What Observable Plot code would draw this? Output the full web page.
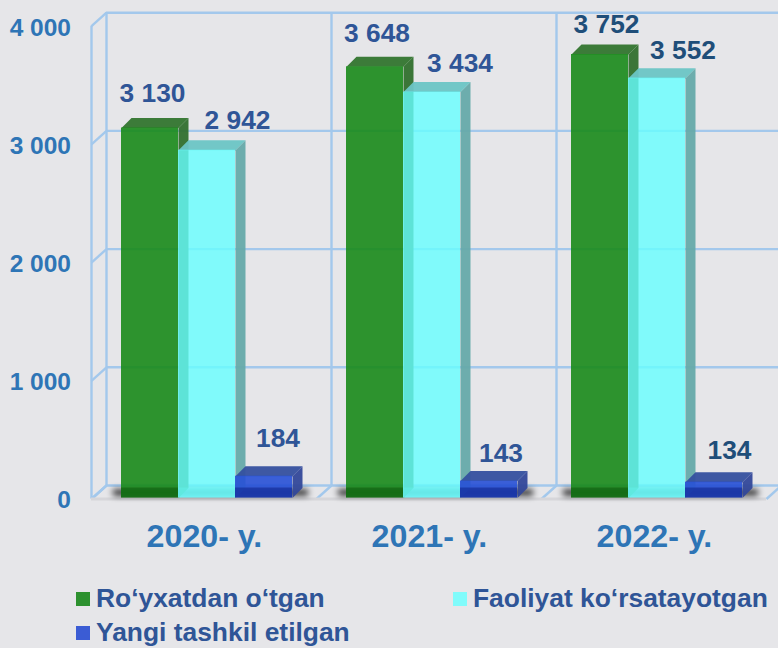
<!DOCTYPE html>
<html><head><meta charset="utf-8">
<script src="https://cdn.jsdelivr.net/npm/d3@7"></script>
<script src="https://cdn.jsdelivr.net/npm/@observablehq/plot@0.6"></script>
<style>
html,body{margin:0;padding:0;background:#e6e6e9;overflow:hidden;width:778px;height:648px;font-family:"Liberation Sans",Arial,sans-serif}
svg{display:block}
#legend{display:grid;grid-template-columns:377px auto;grid-auto-rows:34px;padding-left:76px;padding-top:2.5px;height:66.5px;overflow:hidden;font-weight:bold;font-size:26.4px;line-height:0.9;color:#2f5597}
#legend div{display:flex;align-items:center;white-space:nowrap}
#legend i{display:inline-block;width:14px;height:14px;margin-right:6px;flex:none}
</style></head><body>
<div id="chart"></div>
<div id="legend"></div>
<script>
const years = ["2020- y.", "2021- y.", "2022- y."];
const seriesNames = ["Ro‘yxatdan o‘tgan", "Faoliyat ko‘rsatayotgan", "Yangi tashkil etilgan"];
const registered = [3130, 3648, 3752];
const active = [2942, 3434, 3552];
const created = [184, 143, 134];
const yTicks = [0, 1000, 2000, 3000, 4000];
const legendColors = ["#2d912f", "#80fbfb", "#3b5cd4"];

// appearance and layout
const W = 778, H = 579, mL = 71, mB = 74;
const pxPerCat = 225, pxPerVal = 0.1182, zeroY = 497.5, catOrigin = 91;
const px = p => p / pxPerCat, pv = p => p / pxPerVal;
const styles = [
  {front:"#188a1a", top:"#33752f", side:"#31702e", a:0.9, band:"#003c00", bandA:0.35},
  {front:"#66ffff", top:"#6cc5c5", side:"#66aaaa", a:0.8, band:"#66ffff", bandA:0.25},
  {front:"#2750d6", top:"#35509f", side:"#33489a", a:0.9, band:"#001070", bandA:0.4}
];
const barStart = px(30), barW = px(57), depthX = px(10), depthY = pv(10);
const grid = "#a3c8ec", labelBlue = "#2e75b6";
const labelColors = ["#2f5597", "#2f5597", "#1f4e79"];
// hand placement of value labels relative to bar top centre, px [dx, up]
const nudges = [
  [[2.5,34.5],[30.5,30],[14,38]],
  [[2,33],[28,29],[12,28]],
  [[6.5,29.5],[26,27.5],[15.5,32]]
];
const series = [registered, active, created];
const fmt = v => String(v).replace(/\B(?=(\d{3})+$)/g, " ");

const faces = (vals, s) => vals.flatMap((v, g) => {
  const x0 = g + barStart + s * barW, x1 = x0 + barW;
  return [
    ...[[x1,v],[x1+depthX,v+depthY],[x1+depthX,depthY],[x1,0]].map(([x,y]) => ({id:"side"+g, kind:"side", x, y})),
    ...[[x0,v],[x1,v],[x1+depthX,v+depthY],[x0+depthX,v+depthY]].map(([x,y]) => ({id:"top"+g, kind:"top", x, y}))
  ];
});
const fronts = (vals, s) => vals.map((v, g) => ({x1:g+barStart+s*barW, x2:g+barStart+(s+1)*barW, v}));

const wallX = px(15), wallFront = pv(-1), wallBack = pv(12.5);
const blur = r => (index, scales, values, dims, ctx, next) => {
  const g = next(index, scales, values, dims, ctx);
  g.style.filter = `blur(${r}px)`;
  return g;
};
const gridW = 2.4;
const marks = [
  // grid: back wall
  Plot.ruleY(yTicks, {y:d=>d+wallBack, x1:wallX, x2:px(W-catOrigin), stroke:grid, strokeWidth:gridW}),
  Plot.ruleX([0,1,2,3].map(d=>d+wallX), {x:d=>d, y1:wallBack, y2:4000+wallBack, stroke:grid, strokeWidth:gridW}),
  // left wall
  Plot.ruleX([0], {x:d=>d, y1:wallFront, y2:4000+wallFront, stroke:grid, strokeWidth:gridW}),
  Plot.link(yTicks, {x1:0, x2:wallX, y1:d=>d+wallFront, y2:d=>d+wallBack, stroke:grid, strokeWidth:gridW}),
  // floor
  Plot.link([0,1,2,3], {x1:d=>d, x2:d=>d+wallX, y1:wallFront, y2:wallBack, stroke:grid, strokeWidth:gridW}),
  Plot.ruleY([wallFront], {x1:0, x2:3, stroke:"#d6d6da", strokeWidth:3}),
  // floor shadow
  Plot.rect(years, {x1:(d,i)=>i+barStart-px(8), x2:(d,i)=>i+barStart+3*barW+px(16), y1:pv(2), y2:pv(8), fill:"#000", fillOpacity:0.85, render:blur(3)})
];
series.forEach((vals, s) => {
  const st = styles[s], f = faces(vals, s);
  marks.push(Plot.line(f.filter(d=>d.kind==="side"), {x:"x", y:"y", z:"id", fill:st.side, stroke:"none", fillOpacity:0.95}));
  marks.push(Plot.line(f.filter(d=>d.kind==="top"), {x:"x", y:"y", z:"id", fill:st.top, stroke:"none", fillOpacity:0.95}));
  marks.push(Plot.rectY(fronts(vals, s), {x1:"x1", x2:"x2", y1:0, y2:"v", fill:st.front, fillOpacity:st.a}));
  marks.push(Plot.rectY(fronts(vals, s), {x1:"x1", x2:"x2", y1:0, y2:depthY, fill:st.band, fillOpacity:st.bandA}));
});
series.forEach((vals, s) => {
  marks.push(Plot.text(vals, {
    x:(v,g)=>g+barStart+(s+.5)*barW+px(nudges[g][s][0]),
    y:(v,g)=>v+pv(nudges[g][s][1]),
    text:fmt, fontSize:26.3, fontWeight:"bold", fill:(v,g)=>labelColors[g]
  }));
});
marks.push(Plot.axisY({ticks:yTicks, tickFormat:fmt, tickSize:0, tickPadding:0, dx:-0.5, dy:2.5, label:null, fontSize:24.5, fontWeight:"bold", fill:labelBlue, textAnchor:"end"}));
marks.push(Plot.axisX({ticks:[0.502,1.502,2.502], tickFormat:(d)=>years[Math.floor(d)], tickSize:0, tickPadding:0, dy:19, label:null, fontSize:32.2, fontWeight:"bold", fill:labelBlue}));

const plot = Plot.plot({
  width:W, height:H, marginLeft:mL, marginRight:0, marginTop:0, marginBottom:mB,
  style:{background:"transparent", fontFamily:"Liberation Sans, Arial, sans-serif", overflow:"visible"},
  x:{type:"linear", domain:[px(mL-catOrigin), px(W-catOrigin)], range:[mL, W]},
  y:{type:"linear", domain:[pv(zeroY-(H-mB)), pv(zeroY)], range:[H-mB, 0]},
  color:{type:"identity"},
  marks
});
document.getElementById("chart").append(plot);
const lg = d3.select("#legend").selectAll("div").data(seriesNames).join("div");
lg.append("i").style("background",(d,i)=>legendColors[i]);
lg.append("span").text(d=>d);
</script></body></html>
